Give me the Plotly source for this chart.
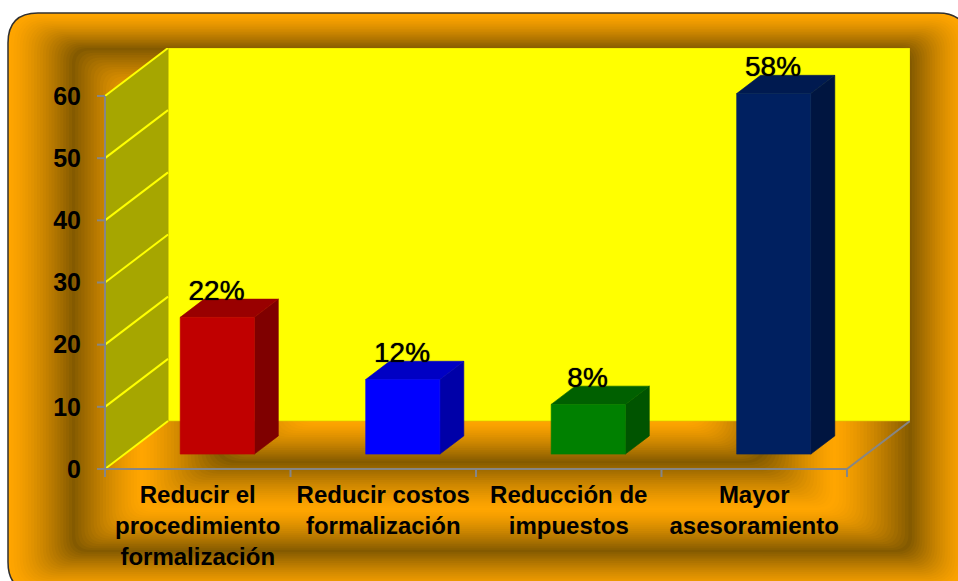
import plotly.graph_objects as go

# ---- data ----
categories = ["Reducir el<br>procedimiento<br>formalización",
              "Reducir costos<br>formalización",
              "Reducción de<br>impuestos",
              "Mayor<br>asesoramiento"]
values = [22, 12, 8, 58]
value_labels = ["22%", "12%", "8%", "58%"]
y_ticks = [0, 10, 20, 30, 40, 50, 60]

# ---- style ----
W, H = 958, 581
front_colors = ["#C00000", "#0000FF", "#008000", "#002060"]
top_colors = ["#990000", "#0000C4", "#006000", "#001A50"]
side_colors = ["#7F0000", "#0000A8", "#005400", "#001540"]
GRAY = "#868686"
ORANGE = "#FFA500"
DARK = "#845A00"

PX_X = 185.4   # pixels per category
PX_Y = 6.217   # pixels per value unit

# oblique projection: depth 0 = front plane, depth 1 = back wall
DX = 63.0 / PX_X
DY = 7.72
BAR_HALF = 0.2
BAR_D0, BAR_D1 = 0.31, 0.69
X0, X1 = -0.5, 3.5
Y0, Y1 = 0, 60
PAD_X = 10 / PX_X
PAD_Y = 9 / PX_Y
TICK_X = 8 / PX_X
TICK_Y = 8 / PX_Y


def proj(x, y, d):
    return x + d * DX, y + d * DY


def poly(pts, color, line=None):
    xs = [p[0] for p in pts] + [pts[0][0]]
    ys = [p[1] for p in pts] + [pts[0][1]]
    return go.Scatter(x=xs, y=ys, mode="lines", fill="toself", fillcolor=color,
                      line=dict(color=line or color, width=0.6),
                      hoverinfo="skip", showlegend=False)


def seg(pts, color, width):
    return go.Scatter(x=[p[0] for p in pts], y=[p[1] for p in pts], mode="lines",
                      line=dict(color=color, width=width), hoverinfo="skip",
                      showlegend=False)


fig = go.Figure()

# back wall and left wall
fig.add_trace(poly([proj(X0, Y0, 1), proj(X1, Y0, 1), proj(X1, Y1, 1), proj(X0, Y1, 1)], "#FFFF00", "#D8C800"))
fig.add_trace(poly([proj(X0, Y0, 0), proj(X0, Y0, 1), proj(X0, Y1, 1), proj(X0, Y1, 0)], "#A6A600"))
for t in y_ticks:
    fig.add_trace(seg([proj(X0, t, 0), proj(X0, t, 1)], "#FFFF00", 2))

# floor edge, axis lines, tick marks
fig.add_trace(seg([proj(X1, Y0, 0), proj(X1, Y0, 1)], GRAY, 2))
fig.add_trace(seg([(X0, Y0), (X1, Y0)], GRAY, 2.2))
fig.add_trace(seg([(X0, Y0), (X0, Y1)], GRAY, 2))
for b in [-0.5, 0.5, 1.5, 2.5, 3.5]:
    fig.add_trace(seg([(b, 0), (b, -TICK_Y)], GRAY, 2))
for t in y_ticks:
    fig.add_trace(seg([(X0 - TICK_X, t), (X0, t)], GRAY, 2))

# bars
for i, v in enumerate(values):
    l, r = i - BAR_HALF, i + BAR_HALF
    fig.add_trace(poly([proj(r, 0, BAR_D0), proj(r, 0, BAR_D1), proj(r, v, BAR_D1), proj(r, v, BAR_D0)], side_colors[i]))
    fig.add_trace(poly([proj(l, v, BAR_D0), proj(r, v, BAR_D0), proj(r, v, BAR_D1), proj(l, v, BAR_D1)], top_colors[i]))
    fig.add_trace(poly([proj(l, 0, BAR_D0), proj(r, 0, BAR_D0), proj(r, v, BAR_D0), proj(l, v, BAR_D0)], front_colors[i]))

# value labels
lab = [proj(i, v, BAR_D1) for i, v in enumerate(values)]
fig.add_trace(go.Scatter(x=[p[0] - 0.133 for p in lab], y=[p[1] - 1.3 for p in lab], mode="text",
                         text=value_labels, textposition="top center",
                         textfont=dict(family="Liberation Sans", size=28, color="black",
                                       shadow="0 0 1px black"),
                         hoverinfo="skip", showlegend=False, cliponaxis=False))


# ---- nested bevel background ----
def hexrgb(c):
    return tuple(int(c[i:i + 2], 16) for i in (1, 3, 5))


def rrect(L, T, R, B, r):
    px = lambda v: v / W
    py = lambda v: 1 - v / H
    return (f"M {px(L + r)} {py(T)} L {px(R - r)} {py(T)} Q {px(R)} {py(T)} {px(R)} {py(T + r)} "
            f"L {px(R)} {py(B - r)} Q {px(R)} {py(B)} {px(R - r)} {py(B)} "
            f"L {px(L + r)} {py(B)} Q {px(L)} {py(B)} {px(L)} {py(B - r)} "
            f"L {px(L)} {py(T + r)} Q {px(L)} {py(T)} {px(L + r)} {py(T)} Z")


stops = [
    (8, 13, 968, 592, 30, ORANGE),
    (72, 48, 912, 552, 16, DARK),
    (140, 100, 836, 510, 16, ORANGE),
    (215, 190, 767, 463, 22, DARK),
    (300, 300, 700, 422, 20, ORANGE),
]
shapes = []
N = 22
for a, b in zip(stops[:-1], stops[1:]):
    ca, cb = hexrgb(a[5]), hexrgb(b[5])
    to_dark = b[5] == DARK
    for k in range(N):
        f = k / N
        cf = f ** 1.35 if to_dark else 1 - (1 - f) ** 1.35
        g = [a[j] + (b[j] - a[j]) * f for j in range(5)]
        c = [round(ca[j] + (cb[j] - ca[j]) * cf) for j in range(3)]
        shapes.append(dict(type="path", xref="paper", yref="paper", layer="below",
                           path=rrect(*g), fillcolor=f"rgb({c[0]},{c[1]},{c[2]})",
                           line=dict(width=0)))
o = stops[0]
shapes.append(dict(type="path", xref="paper", yref="paper", layer="below",
                   path=rrect(*o[:5]), fillcolor="rgba(0,0,0,0)",
                   line=dict(color="#303030", width=1.5)))

fig.update_layout(
    width=W, height=H, margin=dict(l=0, r=0, t=0, b=0), autosize=False,
    paper_bgcolor="white", plot_bgcolor="rgba(0,0,0,0)", showlegend=False,
    shapes=shapes, hovermode=False,
    xaxis=dict(domain=[95 / W, 910 / W], range=[X0 - PAD_X, X1 + DX], tickmode="array",
               automargin=False,
               tickvals=list(range(len(categories))), ticktext=categories,
               showgrid=False, zeroline=False, showline=False, ticks="",
               tickfont=dict(family="Liberation Sans", size=24, color="black", weight="bold")),
    yaxis=dict(domain=[(H - 478) / H, (H - 48) / H], range=[Y0 - PAD_Y, Y1 + DY], tickmode="array",
               automargin=False,
               tickvals=y_ticks, showgrid=False, zeroline=False, showline=False,
               ticks="outside", ticklen=8, tickcolor="rgba(0,0,0,0)",
               tickfont=dict(family="Liberation Sans", size=25, color="black", weight="bold")),
)
fig.write_html("out.html", config={"displayModeBar": False},
               post_script="document.body.style.margin='0';")
